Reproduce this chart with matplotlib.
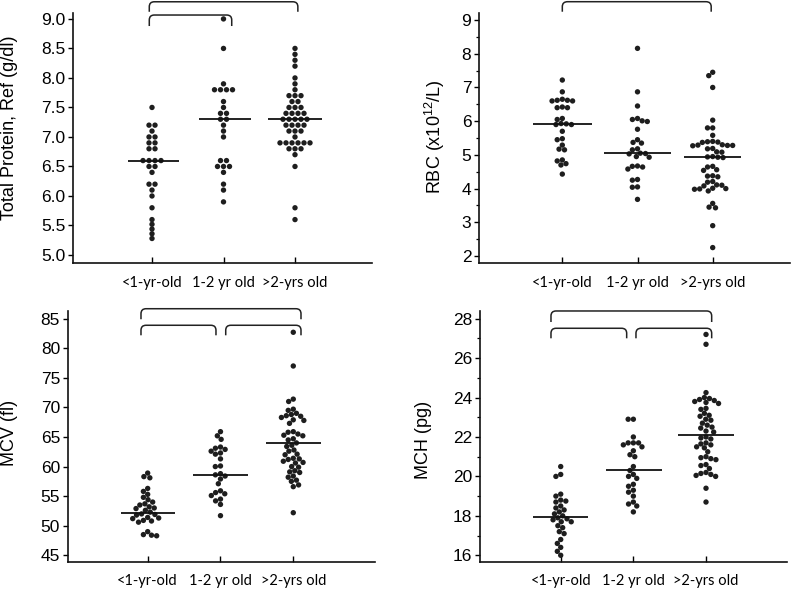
import numpy as np
import matplotlib
matplotlib.use("Agg")
import matplotlib.pyplot as plt
from matplotlib.path import Path
from matplotlib.patches import PathPatch
import matplotlib.transforms as mtransforms
from matplotlib.ticker import MultipleLocator, FormatStrFormatter

plt.rcParams['font.family'] = ['Liberation Sans', 'DejaVu Sans']
plt.rcParams['mathtext.default'] = 'regular'

groups = ["<1-yr-old", "1-2 yr old", ">2-yrs old"]

# ---- Total protein (g/dl)
tp_lt1 = [7.5, 7.2, 7.2, 7.1, 7.0, 7.0, 6.9, 6.9, 6.8, 6.8, 6.6, 6.6, 6.6, 6.6,
          6.5, 6.5, 6.4, 6.2, 6.2, 6.1, 6.0, 5.8, 5.6, 5.52, 5.44, 5.36, 5.28]
tp_12 = [9.0, 8.5, 7.9, 7.8, 7.8, 7.8, 7.8, 7.6, 7.5, 7.4, 7.4, 7.3, 7.3, 7.2,
         7.1, 7.0, 6.6, 6.6, 6.5, 6.5, 6.5, 6.4, 6.2, 6.1, 5.9]
tp_gt2 = [8.5, 8.4, 8.3, 8.2, 8.0, 7.9, 7.8, 7.7, 7.7, 7.7, 7.6, 7.6, 7.5, 7.5,
          7.5, 7.4, 7.4, 7.4, 7.4, 7.3, 7.3, 7.3, 7.3, 7.3, 7.2, 7.2, 7.2, 7.2,
          7.1, 7.1, 7.1, 7.0, 6.9, 6.9, 6.9, 6.9, 6.9, 6.9, 6.8, 6.8, 6.8, 6.7,
          6.5, 5.8, 5.6]
tp_med = [6.6, 7.3, 7.3]

# ---- RBC (x10^12/L)
rbc_lt1 = [7.22, 6.87, 6.65, 6.62, 6.62, 6.60, 6.60, 6.42, 6.40, 6.40, 6.08, 6.05,
           5.93, 5.92, 5.90, 5.90, 5.70, 5.48, 5.45, 5.29, 5.17, 5.15, 4.85, 4.82,
           4.74, 4.70, 4.43]
rbc_12 = [8.16, 6.87, 6.45, 6.08, 6.05, 6.01, 5.99, 5.76, 5.45, 5.37, 5.35, 5.18,
          5.15, 5.05, 5.04, 5.03, 4.95, 4.93, 4.67, 4.66, 4.64, 4.58, 4.27, 4.25,
          4.05, 4.04, 3.68]
rbc_gt2 = [7.45, 7.35, 7.0, 6.03, 5.80, 5.80, 5.58, 5.40, 5.39, 5.38, 5.37, 5.30,
           5.29, 5.28, 5.28, 5.27, 5.19, 5.18, 5.09, 5.08, 4.95, 4.94, 4.93, 4.92,
           4.66, 4.64, 4.56, 4.54, 4.38, 4.37, 4.35, 4.21, 4.19, 4.11, 4.10, 4.08,
           4.01, 4.00, 3.99, 3.98, 3.93, 3.56, 3.45, 3.43, 2.90, 2.25]
rbc_med = [5.93, 5.05, 4.95]

# ---- MCV (fl)
mcv_lt1 = [58.9, 58.3, 58.1, 56.3, 55.8, 55.3, 54.8, 54.4, 54.0, 53.7, 53.5, 53.2,
           53.0, 52.9, 52.6, 52.3, 52.0, 51.9, 51.8, 51.4, 51.3, 51.2, 50.9, 50.8,
           50.6, 49.0, 48.5, 48.4, 48.3]
mcv_12 = [65.9, 65.2, 64.6, 63.3, 63.1, 62.9, 62.6, 62.3, 62.1, 61.3, 60.1, 60.0,
          58.8, 58.6, 58.4, 57.9, 57.1, 55.9, 55.6, 55.4, 55.1, 54.5, 54.2, 53.6, 51.7]
mcv_gt2 = [82.7, 77.0, 71.4, 71.0, 69.7, 69.5, 69.0, 68.8, 68.6, 68.5, 68.3, 67.9,
           67.8, 67.3, 65.9, 65.8, 65.5, 65.3, 65.2, 64.7, 64.5, 64.0, 63.6, 63.4,
           62.8, 62.6, 62.1, 62.0, 61.4, 61.3, 61.2, 60.9, 60.7, 60.6, 60.0, 59.9,
           59.3, 59.1, 59.0, 58.4, 58.2, 57.7, 57.5, 56.9, 56.6, 52.2]
mcv_med = [52.2, 58.6, 64.0]

# ---- MCH (pg)
mch_lt1 = [20.5, 20.1, 20.0, 19.1, 19.0, 18.8, 18.75, 18.7, 18.5, 18.4, 18.3, 18.2,
           18.1, 18.0, 17.9, 17.85, 17.8, 17.7, 17.7, 17.5, 17.4, 17.2, 17.1, 16.8,
           16.6, 16.4, 16.2, 16.0]
mch_12 = [22.9, 22.9, 22.0, 21.7, 21.7, 21.7, 21.6, 21.5, 21.3, 21.1, 21.0, 20.5,
          20.3, 20.1, 20.0, 19.9, 19.6, 19.5, 19.3, 19.2, 19.0, 18.7, 18.6, 18.5, 18.2]
mch_gt2 = [27.2, 26.7, 24.25, 24.0, 23.95, 23.9, 23.85, 23.8, 23.75, 23.7, 23.45,
           23.4, 23.2, 23.1, 23.05, 22.9, 22.85, 22.7, 22.6, 22.5, 22.45, 22.3, 22.25,
           22.0, 21.95, 21.9, 21.7, 21.65, 21.6, 21.5, 21.45, 21.25, 21.0, 20.95,
           20.9, 20.85, 20.6, 20.55, 20.4, 20.2, 20.15, 20.1, 20.05, 20.0, 19.4, 18.7]
mch_med = [17.95, 20.3, 22.1]

DOT = '#1e1e1e'
DIAM = 5.2  # px

fig = plt.figure(figsize=(8.0, 5.92), dpi=100)

panels = [
    dict(rect=[0.09125, 0.5557, 0.37375, 0.4223], data=[tp_lt1, tp_12, tp_gt2], med=tp_med,
         ylim=(4.864, 9.10), xlim=(-0.105, 4.077), major=0.5, minor=None, fmt='%.1f',
         ylabel='Total Protein, Ref (g/dl)', lab=(10, 128), rows=True,
         medw=[(-0.33, 0.38), (-0.34, 0.38), (-0.38, 0.38)],
         brackets=[(0.962, 3.04, 1.045, 1.005), (0.962, 2.115, 0.992, 0.948)]),
    dict(rect=[0.59875, 0.5552, 0.38875, 0.4233], data=[rbc_lt1, rbc_12, rbc_gt2], med=rbc_med,
         ylim=(1.783, 9.217), xlim=(-0.108, 4.028), major=1, minor=0.5, fmt='%d',
         ylabel='RBC (x10$^{12}$/L)', lab=(435, 137), rows=False,
         medw=[(-0.39, 0.39), (-0.45, 0.45), (-0.38, 0.38)],
         brackets=[(1.0, 2.98, 1.044, 1.004)]),
    dict(rect=[0.0846, 0.0512, 0.3841, 0.4235], data=[mcv_lt1, mcv_12, mcv_gt2], med=mcv_med,
         ylim=(43.92, 86.3), xlim=(-0.099, 4.122), major=5, minor=None, fmt='%d',
         ylabel='MCV (fl)', lab=(10, 433), rows=False,
         medw=[(-0.37, 0.38), (-0.38, 0.38), (-0.37, 0.38)],
         brackets=[(0.908, 3.106, 1.009, 0.967), (0.908, 1.938, 0.943, 0.903),
                   (2.072, 3.106, 0.943, 0.903)]),
    dict(rect=[0.6, 0.0512, 0.3834, 0.4235], data=[mch_lt1, mch_12, mch_gt2], med=mch_med,
         ylim=(15.675, 28.39), xlim=(-0.111, 4.111), major=2, minor=1, fmt='%d',
         ylabel='MCH (pg)', lab=(424, 440), rows=False,
         medw=[(-0.38, 0.38), (-0.38, 0.39), (-0.38, 0.38)],
         brackets=[(0.866, 3.078, 1.0, 0.956), (0.866, 1.908, 0.931, 0.891),
                   (2.036, 3.078, 0.931, 0.891)]),
]


def swarm(ax, xc, vals, rows):
    vals = np.asarray(vals, float)
    disp = ax.transData.transform(np.column_stack([np.full(len(vals), xc), vals]))
    ys = disp[:, 1]
    p0 = ax.transData.transform([[xc, 0]])[0, 0]
    p1 = ax.transData.transform([[xc + 1, 0]])[0, 0]
    ppx = p1 - p0
    xs = np.zeros(len(vals))
    if rows:
        for v in np.unique(vals):
            idx = np.where(vals == v)[0]
            n = len(idx)
            for k, i in enumerate(idx):
                xs[i] = (k - (n - 1) / 2) * (DIAM + 0.8)
    else:
        order = np.argsort(-ys)
        px_l, py_l = [], []
        for i in order:
            y = ys[i]
            cands = [0.0]
            for px, py in zip(px_l, py_l):
                dy = abs(py - y)
                if dy < DIAM:
                    dx = np.sqrt(DIAM ** 2 - dy ** 2)
                    cands += [px + dx, px - dx]
            cands = sorted(cands, key=lambda c: (abs(c), c))
            chosen = cands[-1]
            for c in cands:
                if all((c - px) ** 2 + (y - py) ** 2 >= DIAM ** 2 - 1e-6
                       for px, py in zip(px_l, py_l)):
                    chosen = c
                    break
            xs[i] = chosen
            px_l.append(chosen)
            py_l.append(y)
    return xc + xs / ppx


def bracket(ax, x0, x1, ytop, ybot):
    trans = mtransforms.blended_transform_factory(ax.transData, ax.transAxes)
    rx, ry = 0.07, 0.02
    verts = [(x0, ybot), (x0, ytop - ry), (x0, ytop), (x0 + rx, ytop),
             (x1 - rx, ytop), (x1, ytop), (x1, ytop - ry), (x1, ybot)]
    codes = [Path.MOVETO, Path.LINETO, Path.CURVE3, Path.CURVE3,
             Path.LINETO, Path.CURVE3, Path.CURVE3, Path.LINETO]
    patch = PathPatch(Path(verts, codes), transform=trans, fill=False,
                      edgecolor='#222222', lw=1.1, clip_on=False, capstyle='butt')
    ax.add_patch(patch)


for p in panels:
    ax = fig.add_axes(p['rect'])
    ax.set_xlim(*p['xlim'])
    ax.set_ylim(*p['ylim'])
    for s in ['top', 'right']:
        ax.spines[s].set_visible(False)
    for s in ['left', 'bottom']:
        ax.spines[s].set_linewidth(1.2)
        ax.spines[s].set_color('#111111')
    ax.yaxis.set_major_locator(MultipleLocator(p['major']))
    ax.yaxis.set_major_formatter(FormatStrFormatter(p['fmt']))
    if p['minor']:
        ax.yaxis.set_minor_locator(MultipleLocator(p['minor']))
        ax.tick_params(axis='y', which='minor', length=2.5, width=0.9, direction='out')
    ax.tick_params(axis='y', which='major', length=3.5, width=1.0, direction='out',
                   labelsize=12.5, pad=2)
    ax.set_xticks([1, 2, 3])
    ax.set_xticklabels(groups, fontfamily=['Lato', 'DejaVu Sans'], fontsize=10.5)
    ax.tick_params(axis='x', length=4, width=1.0, direction='in', pad=9)
    for k, vals in enumerate(p['data']):
        xc = k + 1
        xs = swarm(ax, xc, vals, p['rows'])
        ax.scatter(xs, vals, s=15, color=DOT, edgecolors='none', zorder=3,
                   clip_on=False)
        wl, wr = p['medw'][k]
        ax.plot([xc + wl, xc + wr], [p['med'][k], p['med'][k]], color='#111111',
                lw=1.3, zorder=4, solid_capstyle='butt')
    for b in p['brackets']:
        bracket(ax, *b)
    fig.text(p['lab'][0] / 800, 1 - p['lab'][1] / 592, p['ylabel'], rotation=90,
             ha='center', va='center', fontsize=13)

fig.savefig('out.png', dpi=100)
